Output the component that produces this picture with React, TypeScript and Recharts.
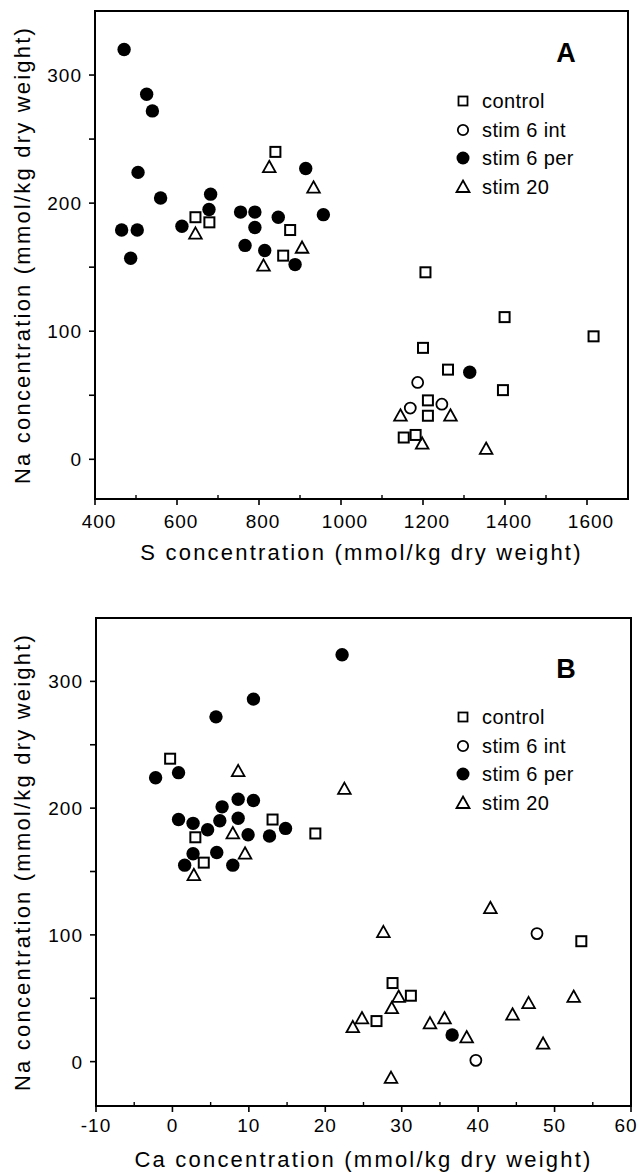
import React from 'react';
import { ScatterChart, Scatter, XAxis, YAxis, ReferenceArea } from 'recharts';

const FONT = '"Liberation Sans", Arial, Helvetica, sans-serif';

// ---------- Panel A: S vs Na ----------
const aControlS = [840, 645, 679, 876, 859, 1206, 1399, 1616, 1200, 1261, 1395, 1212, 1212, 1153, 1182];
const aControlNa = [240, 189, 185, 179, 159, 146, 111, 96, 87, 70, 54, 46, 34, 17, 19];
const aIntS = [1187, 1169, 1246];
const aIntNa = [60, 40, 43];
const aPerS = [471, 526, 540, 505, 560, 465, 503, 487, 682, 678, 612, 755, 790, 790, 847, 766, 814, 888, 914, 957, 1314];
const aPerNa = [320, 285, 272, 224, 204, 179, 179, 157, 207, 195, 182, 193, 193, 181, 189, 167, 163, 152, 227, 191, 68];
const aS20S = [825, 933, 645, 905, 811, 1145, 1267, 1198, 1354];
const aS20Na = [228, 212, 176, 165, 151, 34, 34, 12, 8];

// ---------- Panel B: Ca vs Na ----------
const bControlCa = [-0.3, 13.1, 18.7, 3.0, 4.1, 53.5, 28.8, 31.2, 26.7];
const bControlNa = [239, 191, 180, 177, 157, 95, 62, 52, 32];
const bIntCa = [47.7, 39.7];
const bIntNa = [101, 1];
const bPerCa = [22.2, 10.6, 5.7, -2.2, 0.8, 6.5, 8.6, 10.6, 0.8, 2.7, 6.2, 8.6, 4.6, 9.9, 12.7, 14.8, 2.7, 5.8, 1.6, 7.9, 36.6];
const bPerNa = [321, 286, 272, 224, 228, 201, 207, 206, 191, 188, 190, 192, 183, 179, 178, 184, 164, 165, 155, 155, 21];
const bS20Ca = [8.6, 22.5, 7.9, 9.5, 2.8, 41.6, 27.6, 29.6, 28.7, 24.8, 23.6, 33.7, 35.6, 38.5, 44.5, 46.6, 52.5, 48.5, 28.6];
const bS20Na = [229, 215, 180, 164, 147, 121, 102, 51, 42, 34, 27, 30, 34, 19, 37, 46, 51, 14, -13];

// ---------- Axes ----------
const aXTicks = [400, 500, 600, 700, 800, 900, 1000, 1100, 1200, 1300, 1400, 1500, 1600];
const bXTicks = [-10, -5, 0, 5, 10, 15, 20, 25, 30, 35, 40, 45, 50, 55, 60];
const yTicks = [0, 50, 100, 150, 200, 250, 300];
const legendLabels = ['control', 'stim 6 int', 'stim 6 per', 'stim 20'];

const zip = (xs: number[], ys: number[]) => xs.map((x, i) => ({ x, y: ys[i] }));

const TS = 6;
const TM = 2;

const Square = (p: any) => (
  <rect x={p.cx - 5} y={p.cy - 5} width={10} height={10} fill="none" stroke="#000" strokeWidth={2} />
);
const OpenCircle = (p: any) => (
  <circle cx={p.cx} cy={p.cy} r={5.5} fill="none" stroke="#000" strokeWidth={1.8} />
);
const Dot = (p: any) => <circle cx={p.cx} cy={p.cy} r={6.7} fill="#000" />;
const Tri = (p: any) => (
  <path
    d={`M${p.cx},${p.cy - 6.5} L${p.cx + 6.3},${p.cy + 4.8} L${p.cx - 6.3},${p.cy + 4.8} Z`}
    fill="none"
    stroke="#000"
    strokeWidth={1.8}
  />
);

const YTick = (props: any) => {
  const { x, y, payload } = props;
  const ax = x + TS + TM;
  const v = payload.value;
  const major = v % 100 === 0;
  return (
    <g>
      <line x1={ax} x2={ax - 6} y1={y} y2={y} stroke="#000" strokeWidth={1.6} />
      {major && (
        <text x={ax - 13} y={y + 7} textAnchor="end" fontFamily={FONT} fontSize={19} letterSpacing={1} fill="#000">
          {v}
        </text>
      )}
    </g>
  );
};

const makeXTick = (step: number, dx: number, base: number, lastValue: number) => (props: any) => {
  const { x, y, payload } = props;
  const ay = y - TS - TM;
  const v = payload.value;
  const major = Math.abs(v % step) < 1e-9;
  const shift = v === lastValue ? -5 : dx;
  return (
    <g>
      {major ? (
        <line x1={x} x2={x} y1={ay} y2={ay + 6} stroke="#000" strokeWidth={1.6} />
      ) : (
        <line x1={x} x2={x} y1={ay} y2={ay - 4} stroke="#000" strokeWidth={1.4} />
      )}
      {major && (
        <text x={x + shift} y={ay + base} textAnchor="middle" fontFamily={FONT} fontSize={19} letterSpacing={1} fill="#000">
          {v}
        </text>
      )}
    </g>
  );
};

const LegendBlock = ({ left, top }: { left: number; top: number }) => {
  const rows = [0, 29, 57, 86];
  const sx = left + 13;
  return (
    <g>
      <rect x={sx - 4.5} y={top + rows[0] - 4.5} width={9} height={9} fill="none" stroke="#000" strokeWidth={1.8} />
      <circle cx={sx} cy={top + rows[1]} r={5.2} fill="none" stroke="#000" strokeWidth={1.8} />
      <circle cx={sx} cy={top + rows[2]} r={6.5} fill="#000" />
      <path
        d={`M${sx},${top + rows[3] - 6.5} L${sx + 6.5},${top + rows[3] + 5} L${sx - 6.5},${top + rows[3] + 5} Z`}
        fill="none"
        stroke="#000"
        strokeWidth={1.8}
      />
      {legendLabels.map((t, i) => (
        <text key={t} x={left + 32} y={top + rows[i] + 7} fontFamily={FONT} fontSize={20} letterSpacing={0.4} fill="#000">
          {t}
        </text>
      ))}
    </g>
  );
};

const Panel = (props: {
  letter: string;
  xTitle: string;
  xDomain: [number, number];
  yDomain: [number, number];
  xTicks: number[];
  xStep: number;
  xDx: number;
  xBase: number;
  height: number;
  marginTop: number;
  marginRight: number;
  yAxisWidth: number;
  xAxisHeight: number;
  series: { data: { x: number; y: number }[]; shape: any; name: string }[];
  letterY: number;
  legendTop: number;
}) => {
  const plotTop = props.marginTop;
  const plotBottom = props.height - props.xAxisHeight;
  const plotLeft = props.yAxisWidth;
  const plotRight = 639 - props.marginRight;
  const cy = (plotTop + plotBottom) / 2;
  const cx = (plotLeft + plotRight) / 2;
  return (
    <ScatterChart
      width={639}
      height={props.height}
      margin={{ top: props.marginTop, right: props.marginRight, bottom: 0, left: 0 }}
    >
      <XAxis
        type="number"
        dataKey="x"
        domain={props.xDomain}
        allowDataOverflow
        ticks={props.xTicks}
        interval={0}
        height={props.xAxisHeight}
        tickSize={TS}
        tickMargin={TM}
        tickLine={false}
        axisLine={{ stroke: '#000', strokeWidth: 2 }}
        tick={makeXTick(props.xStep, props.xDx, props.xBase, props.xDomain[1])}
      />
      <YAxis
        type="number"
        dataKey="y"
        domain={props.yDomain}
        allowDataOverflow
        ticks={yTicks}
        interval={0}
        width={props.yAxisWidth}
        tickSize={TS}
        tickMargin={TM}
        tickLine={false}
        axisLine={{ stroke: '#000', strokeWidth: 2 }}
        tick={YTick}
      />
      <ReferenceArea
        x1={props.xDomain[0]}
        x2={props.xDomain[1]}
        y1={props.yDomain[0]}
        y2={props.yDomain[1]}
        fill="none"
        fillOpacity={0}
        stroke="#000"
        strokeWidth={2}
        ifOverflow="visible"
      />
      {props.series.map((s) => (
        <Scatter key={s.name} name={s.name} data={s.data} shape={s.shape} isAnimationActive={false} />
      ))}
      <text x={566} y={props.letterY} textAnchor="middle" fontFamily={FONT} fontWeight="bold" fontSize={27} fill="#000">
        {props.letter}
      </text>
      <LegendBlock left={450} top={props.legendTop} />
      <text x={cx} y={plotBottom + 61} textAnchor="middle" fontFamily={FONT} fontSize={22} letterSpacing={2.2} fill="#000">
        {props.xTitle}
      </text>
      <text
        x={30}
        y={cy}
        transform={`rotate(-90, 30, ${cy})`}
        textAnchor="middle"
        fontFamily={FONT}
        fontSize={22}
        letterSpacing={2.2}
        fill="#000"
      >
        Na concentration (mmol/kg dry weight)
      </text>
    </ScatterChart>
  );
};

export default function App() {
  const aSeries = [
    { name: 'control', data: zip(aControlS, aControlNa), shape: Square },
    { name: 'stim 6 int', data: zip(aIntS, aIntNa), shape: OpenCircle },
    { name: 'stim 6 per', data: zip(aPerS, aPerNa), shape: Dot },
    { name: 'stim 20', data: zip(aS20S, aS20Na), shape: Tri },
  ];
  const bSeries = [
    { name: 'control', data: zip(bControlCa, bControlNa), shape: Square },
    { name: 'stim 6 int', data: zip(bIntCa, bIntNa), shape: OpenCircle },
    { name: 'stim 6 per', data: zip(bPerCa, bPerNa), shape: Dot },
    { name: 'stim 20', data: zip(bS20Ca, bS20Na), shape: Tri },
  ];
  return (
    <div style={{ position: 'absolute', left: 0, top: 0, width: 639, height: 1173, background: '#fff' }}>
      <div style={{ position: 'absolute', left: 0, top: 0 }}>
        <Panel
          letter="A"
          xTitle="S concentration (mmol/kg dry weight)"
          xDomain={[400, 1700]}
          yDomain={[-31, 350]}
          xTicks={aXTicks}
          xStep={200}
          xDx={4}
          xBase={29}
          height={580}
          marginTop={11}
          marginRight={11}
          yAxisWidth={95}
          xAxisHeight={81}
          series={aSeries}
          letterY={62}
          legendTop={101}
        />
      </div>
      <div style={{ position: 'absolute', left: 0, top: 580 }}>
        <Panel
          letter="B"
          xTitle="Ca concentration (mmol/kg dry weight)"
          xDomain={[-10, 60]}
          yDomain={[-35, 350]}
          xTicks={bXTicks}
          xStep={10}
          xDx={0}
          xBase={26}
          height={593}
          marginTop={38}
          marginRight={8}
          yAxisWidth={96}
          xAxisHeight={67}
          series={bSeries}
          letterY={98}
          legendTop={137}
        />
      </div>
    </div>
  );
}
